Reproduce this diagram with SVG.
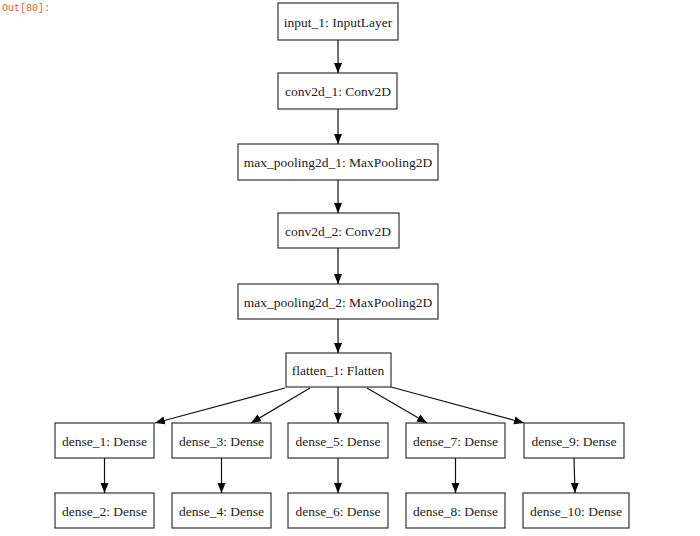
<svg xmlns="http://www.w3.org/2000/svg" width="700" height="536" viewBox="0 0 700 536">
<defs>
<marker id="ah" viewBox="0 0 10 10" refX="10" refY="5" markerWidth="10" markerHeight="10" markerUnits="userSpaceOnUse" orient="auto">
<path d="M0,1 L10,5 L0,9 Z" fill="#000"/>
</marker>
<style>
rect{fill:#fff;stroke:#333;stroke-width:1.2}
.t{font-family:'Liberation Serif','Times New Roman','DejaVu Serif',serif;font-size:13.5px;fill:#222;text-anchor:middle}
.e{stroke:#111;stroke-width:1.2;fill:none;marker-end:url(#ah)}
.out{font-family:'Liberation Mono','DejaVu Sans Mono',monospace;font-size:10px;fill:#d9632f}
</style>
</defs>
<rect x="0" y="0" width="700" height="536" style="fill:#fff;stroke:none"/>
<text class="out" x="2" y="11">Out[80]:</text>
<g id="input_1"><rect x="278" y="3" width="120" height="37"/><text class="t" x="338" y="26.500">input_1: InputLayer</text></g>
<g id="conv2d_1"><rect x="278" y="73" width="119" height="36"/><text class="t" x="338" y="96">conv2d_1: Conv2D</text></g>
<g id="max_pooling2d_1"><rect x="238" y="144" width="200" height="36"/><text class="t" x="338" y="167">max_pooling2d_1: MaxPooling2D</text></g>
<g id="conv2d_2"><rect x="278" y="213" width="121" height="35"/><text class="t" x="338" y="235.500">conv2d_2: Conv2D</text></g>
<g id="max_pooling2d_2"><rect x="238" y="284" width="200" height="35"/><text class="t" x="338" y="306.500">max_pooling2d_2: MaxPooling2D</text></g>
<g id="flatten_1"><rect x="286" y="353" width="105" height="34"/><text class="t" x="338" y="375">flatten_1: Flatten</text></g>
<g id="dense_1"><rect x="55" y="423" width="99" height="35"/><text class="t" x="104.500" y="445.500">dense_1: Dense</text></g>
<g id="dense_3"><rect x="172" y="423" width="99" height="35"/><text class="t" x="221.500" y="445.500">dense_3: Dense</text></g>
<g id="dense_5"><rect x="288" y="423" width="100" height="35"/><text class="t" x="338" y="445.500">dense_5: Dense</text></g>
<g id="dense_7"><rect x="406" y="423" width="99" height="35"/><text class="t" x="455.500" y="445.500">dense_7: Dense</text></g>
<g id="dense_9"><rect x="524" y="423" width="100" height="35"/><text class="t" x="574" y="445.500">dense_9: Dense</text></g>
<g id="dense_2"><rect x="55" y="493" width="99" height="35"/><text class="t" x="104.500" y="515.500">dense_2: Dense</text></g>
<g id="dense_4"><rect x="172" y="493" width="99" height="35"/><text class="t" x="221.500" y="515.500">dense_4: Dense</text></g>
<g id="dense_6"><rect x="288" y="493" width="100" height="35"/><text class="t" x="338" y="515.500">dense_6: Dense</text></g>
<g id="dense_8"><rect x="406" y="493" width="99" height="35"/><text class="t" x="455.500" y="515.500">dense_8: Dense</text></g>
<g id="dense_10"><rect x="523" y="493" width="106" height="35"/><text class="t" x="576" y="515.500">dense_10: Dense</text></g>
<g id="edges">
<path class="e" d="M338,40 L338,73"/>
<path class="e" d="M338,109 L338,144"/>
<path class="e" d="M338,180 L338,213"/>
<path class="e" d="M338,248 L338,284"/>
<path class="e" d="M338,319 L338,353"/>
<path class="e" d="M285,388 L155,423"/>
<path class="e" d="M310,388 L251,423"/>
<path class="e" d="M338,387 L338,423"/>
<path class="e" d="M367,388 L427,423"/>
<path class="e" d="M391,387 L524,423"/>
<path class="e" d="M104.500,458 L104.500,493"/>
<path class="e" d="M221.500,458 L221.500,493"/>
<path class="e" d="M338,458 L338,493"/>
<path class="e" d="M455.500,458 L455.500,493"/>
<path class="e" d="M574,458 L575,493"/>
</g>
</svg>
